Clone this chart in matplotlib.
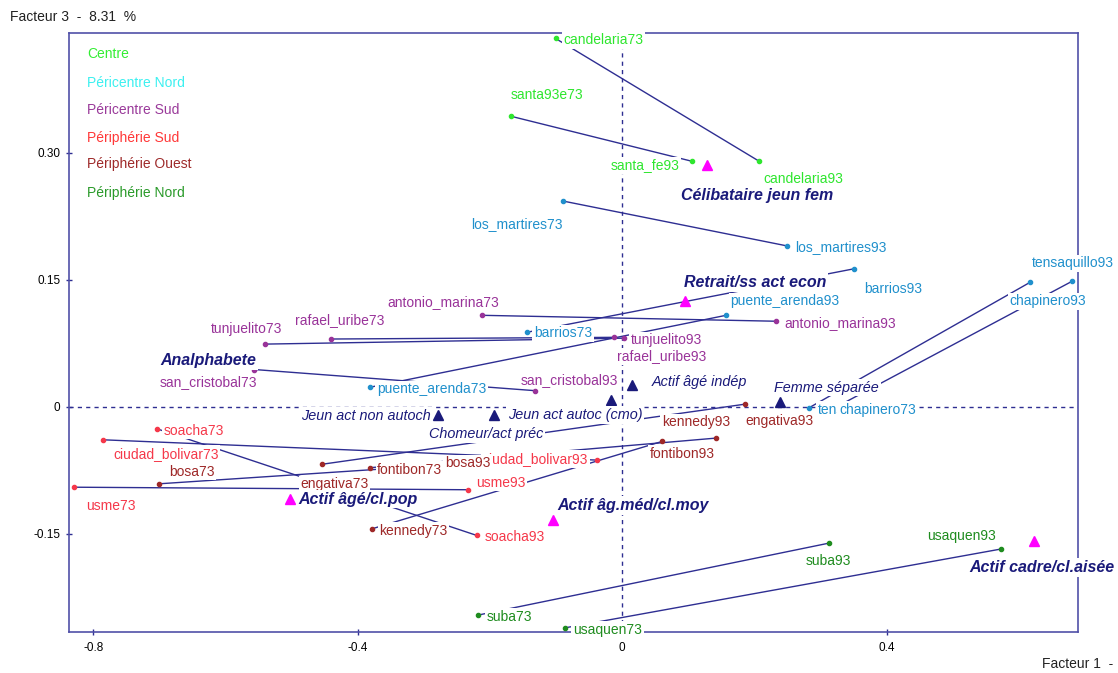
import matplotlib
matplotlib.use('Agg')
import matplotlib.pyplot as plt

plt.rcParams['font.family'] = ['Liberation Sans', 'DejaVu Sans']

W, H = 1118, 673

# zones of Bogotá
zones = ['Centre', 'Péricentre Nord', 'Péricentre Sud',
         'Périphérie Sud', 'Périphérie Ouest', 'Périphérie Nord']

# localities: label in 1973, label in 1993, zone, coordinates on factors 1 and 3
lab73 = ['candelaria73', 'santa93e73',
         'los_martires73', 'barrios73', 'puente_arenda73', 'tensaquillo73', 'chapinero73',
         'antonio_marina73', 'rafael_uribe73', 'tunjuelito73', 'san_cristobal73',
         'soacha73', 'ciudad_bolivar73', 'usme73',
         'bosa73', 'fontibon73', 'engativa73', 'kennedy73',
         'suba73', 'usaquen73']
lab93 = ['candelaria93', 'santa_fe93',
         'los_martires93', 'barrios93', 'puente_arenda93', 'tensaquillo93', 'chapinero93',
         'antonio_marina93', 'rafael_uribe93', 'tunjuelito93', 'san_cristobal93',
         'soacha93', 'ciudad_bolivar93', 'usme93',
         'bosa93', 'fontibon93', 'engativa93', 'kennedy93',
         'suba93', 'usaquen93']
zone_of = [0, 0, 1, 1, 1, 1, 1, 2, 2, 2, 2, 3, 3, 3, 4, 4, 4, 4, 5, 5]

f1_73 = [-0.101, -0.168, -0.090, -0.144, -0.382, 0.322, 0.283,
         -0.212, -0.440, -0.540, -0.557, -0.704, -0.786, -0.830,
         -0.701, -0.382, -0.455, -0.378, -0.218, -0.086]
f3_73 = [0.435, 0.343, 0.243, 0.088, 0.023, -0.001, -0.001,
         0.108, 0.080, 0.074, 0.044, -0.026, -0.039, -0.095,
         -0.091, -0.072, -0.068, -0.144, -0.246, -0.261]
f1_93 = [0.207, 0.105, 0.249, 0.351, 0.157, 0.680, 0.617,
         0.233, -0.012, 0.002, -0.132, -0.220, -0.038, -0.234,
         -0.276, 0.142, 0.185, 0.060, 0.313, 0.573]
f3_93 = [0.290, 0.290, 0.190, 0.163, 0.108, 0.148, 0.147,
         0.101, 0.082, 0.081, 0.019, -0.152, -0.063, -0.098,
         -0.069, -0.037, 0.003, -0.041, -0.161, -0.168]

# supplementary categories
sup_lab = ['Célibataire jeun fem', 'Retrait/ss act econ', 'Analphabete',
           'Actif âgé/cl.pop', 'Actif âg.méd/cl.moy', 'Actif cadre/cl.aisée',
           'Actif âgé indép', 'Femme séparée', 'Jeun act non autoch',
           'Jeun act autoc (cmo)', 'Chomeur/act préc']
sup_main = [True, True, True, True, True, True, False, False, False, False, False]
sup_f1 = [0.128, 0.095, -0.627, -0.503, -0.105, 0.623,
          0.014, 0.238, -0.279, -0.194, -0.017]
sup_f3 = [0.285, 0.125, 0.055, -0.109, -0.134, -0.159,
          0.026, 0.006, -0.010, -0.010, 0.008]

# label offsets in pixels (x right, y up)
offsets = {
    'candelaria73': (48, -2), 'candelaria93': (44, -18),
    'santa93e73': (36, 21), 'santa_fe93': (-47, -4),
    'los_martires73': (-46, -23), 'los_martires93': (54, -1),
    'barrios73': (36, -1), 'barrios93': (39, -20),
    'puente_arenda73': (62, -2), 'puente_arenda93': (59, 14),
    'tensaquillo73': (24, -2), 'tensaquillo93': (1, 18),
    'chapinero73': (68, -2), 'chapinero93': (18, -19),
    'antonio_marina73': (-39, 13), 'antonio_marina93': (64, -2),
    'rafael_uribe73': (8, 19), 'rafael_uribe93': (47, -19),
    'tunjuelito73': (-19, 15), 'tunjuelito93': (43, -2),
    'san_cristobal73': (-46, -13), 'san_cristobal93': (34, 11),
    'soacha73': (37, -2), 'soacha93': (38, -2),
    'ciudad_bolivar73': (63, -14), 'ciudad_bolivar93': (-62, 1),
    'usme73': (37, -19), 'usme93': (33, 7),
    'bosa73': (33, 12), 'bosa93': (28, 2),
    'fontibon73': (40, -2), 'fontibon93': (-34, -16),
    'engativa73': (13, -20), 'engativa93': (35, -17),
    'kennedy73': (41, -2), 'kennedy93': (34, 19),
    'suba73': (31, -2), 'suba93': (-1, -18),
    'usaquen73': (42, -2), 'usaquen93': (-40, 13),
    'Célibataire jeun fem': (50, -30), 'Retrait/ss act econ': (70, 18),
    'Analphabete': (0, 0), 'Actif âgé/cl.pop': (68, 0),
    'Actif âg.méd/cl.moy': (80, 15), 'Actif cadre/cl.aisée': (8, -26),
    'Actif âgé indép': (68, 3), 'Femme séparée': (47, 14),
    'Jeun act non autoch': (-72, -1), 'Jeun act autoc (cmo)': (81, 0),
    'Chomeur/act préc': (-125, -34),
}

zone_col = ['#2ee62e', '#2090cc', '#993399', '#f5384a', '#9e2828', '#1f8c1f']
legend_col = ['#33ee33', '#3cf0f0', '#9a3a9a', '#ff3838', '#9e2a2a', '#2a9a2a']
navy = '#1a1a7a'
traj = '#2e2e92'
frame = '#5050a8'

fig = plt.figure(figsize=(W / 100, H / 100), dpi=100)
ax = fig.add_axes([69 / W, 1 - 632 / H, (1077.7 - 69) / W, (632 - 33) / H])
ax.set_xlim(-0.837, 0.689)
ax.set_ylim(-0.266, 0.4414)

ax.axhline(0, color=traj, lw=1, ls=(0, (3, 3)), zorder=1)
ax.axvline(0, color=traj, lw=1, ls=(0, (3, 3)), zorder=1)

box = dict(boxstyle='square,pad=0.12', fc='white', ec='none')

for i in range(len(lab73)):
    c = zone_col[zone_of[i]]
    ax.plot([f1_73[i], f1_93[i]], [f3_73[i], f3_93[i]], color=traj, lw=1, zorder=2)
    ax.plot([f1_73[i], f1_93[i]], [f3_73[i], f3_93[i]], 'o', ms=3, color=c,
            mec=c, zorder=3, linestyle='none')

for i in range(len(sup_lab)):
    ax.plot(sup_f1[i], sup_f3[i], '^', ms=7.5,
            color='#ff00ff' if sup_main[i] else navy, zorder=3)

for labs, xs, ys in [(lab73, f1_73, f3_73), (lab93, f1_93, f3_93)]:
    for i, lab in enumerate(labs):
        ax.annotate(lab, (xs[i], ys[i]), xytext=offsets[lab], textcoords='offset pixels',
                    ha='center', va='center', fontsize=10, color=zone_col[zone_of[i]],
                    bbox=box, zorder=5, annotation_clip=False)

for i, lab in enumerate(sup_lab):
    if sup_main[i]:
        style = dict(fontsize=11.5, fontweight='bold', fontstyle='italic')
    else:
        style = dict(fontsize=10.4, fontstyle='italic')
    ax.annotate(lab, (sup_f1[i], sup_f3[i]), xytext=offsets[lab], textcoords='offset pixels',
                ha='center', va='center', color=navy, bbox=box, zorder=6,
                annotation_clip=False, **style)

for s in ax.spines.values():
    s.set_color(frame)
    s.set_linewidth(1.2)

ax.set_xticks([-0.8, -0.4, 0, 0.4])
ax.set_xticklabels(['-0.8', '-0.4', '0', '0.4'])
ax.set_yticks([-0.15, 0, 0.15, 0.30])
ax.set_yticklabels(['-0.15', '0', '0.15', '0.30'])
ax.tick_params(direction='inout', length=4.5, width=1, color=traj,
               labelsize=8.5, labelcolor='black')
ax.tick_params(axis='y', pad=4)
ax.tick_params(axis='x', pad=5)

# zone legend
legend_y = [54, 83, 110, 138, 164, 193]
for z, name in enumerate(zones):
    fig.text(87 / W, 1 - legend_y[z] / H, name, color=legend_col[z], fontsize=10,
             va='center', ha='left')

fig.text(10 / W, 1 - 17 / H, 'Facteur 3  -  8.31  %', fontsize=10, va='center', color='#222222')
fig.text(1042 / W, 1 - 664 / H, 'Facteur 1  -', fontsize=10, va='center', color='#222222')

fig.savefig('out.png', dpi=100)
